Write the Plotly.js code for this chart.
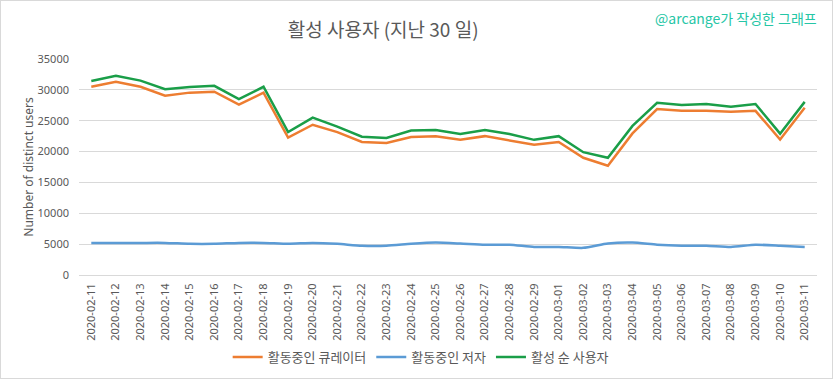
<!DOCTYPE html>
<html>
<head>
<meta charset="utf-8">
<script src="https://cdn.plot.ly/plotly-3.0.1.min.js"></script>
<style>
  html, body { margin: 0; padding: 0; background: #fff; }
  #wrap { position: relative; width: 833px; height: 379px; }
  #chart { width: 833px; height: 379px; }
  #frame { position: absolute; left: 0; top: 0; width: 833px; height: 379px; box-sizing: border-box; border: 1px solid #d9d9d9; pointer-events: none; }
</style>
</head>
<body>
<div id="wrap"><div id="chart"></div><div id="frame"></div></div>
<script>
const dates = ["2020-02-11","2020-02-12","2020-02-13","2020-02-14","2020-02-15","2020-02-16","2020-02-17","2020-02-18","2020-02-19","2020-02-20","2020-02-21","2020-02-22","2020-02-23","2020-02-24","2020-02-25","2020-02-26","2020-02-27","2020-02-28","2020-02-29","2020-03-01","2020-03-02","2020-03-03","2020-03-04","2020-03-05","2020-03-06","2020-03-07","2020-03-08","2020-03-09","2020-03-10","2020-03-11"];
const curators = [30500,31300,30500,29050,29550,29700,27600,29550,22250,24350,23150,21550,21400,22350,22500,21900,22500,21850,21100,21550,19000,17700,22950,26900,26600,26600,26450,26600,21950,27100];
const authors = [5200,5200,5200,5200,5050,5050,5200,5200,5050,5200,5050,4750,4750,5050,5250,5100,4900,4900,4550,4550,4400,5100,5250,4900,4750,4750,4550,4900,4750,4550];
const activeUsers = [31450,32300,31500,30100,30450,30650,28500,30500,23150,25500,24050,22400,22200,23400,23500,22850,23500,22850,21900,22500,19900,19000,24150,27900,27550,27700,27250,27700,22900,28050];
const seriesNames = ["활동중인 큐레이터", "활동중인 저자", "활성 순 사용자"];

const FONT = '"Noto Sans", "Noto Sans CJK KR", sans-serif';
const KFONT = '"Noto Sans CJK KR", "Noto Sans", sans-serif';

const traces = [
  {x: dates, y: curators, name: seriesNames[0], type: 'scatter', mode: 'lines', line: {color: '#ED7D31', width: 2.5}},
  {x: dates, y: authors, name: seriesNames[1], type: 'scatter', mode: 'lines', line: {color: '#5B9BD5', width: 2.5, shape: 'spline', smoothing: 0.6}},
  {x: dates, y: activeUsers, name: seriesNames[2], type: 'scatter', mode: 'lines', line: {color: '#1A9E48', width: 2.5}}
];

const layout = {
  width: 833, height: 379,
  margin: {l: 79, r: 16, t: 59, b: 104},
  paper_bgcolor: 'rgba(0,0,0,0)',
  plot_bgcolor: '#fff',
  showlegend: true,
  title: {text: '활성 사용자 (지난 30 일)', x: 0.46, xref: 'container', xanchor: 'center', y: 1 - 30/379, yref: 'container', yanchor: 'middle', font: {family: KFONT, size: 19, color: '#595959'}},
  xaxis: {
    type: 'category', tickangle: -90, showgrid: false, showline: true, linecolor: '#d9d9d9', linewidth: 1,
    ticks: '', ticklabelstandoff: 3, tickfont: {family: FONT, size: 11, color: '#595959'},
    range: [-0.5, 29.5], fixedrange: true
  },
  yaxis: {
    range: [0, 35000], tickvals: [0,5000,10000,15000,20000,25000,30000,35000], tickformat: 'd',
    showgrid: true, gridcolor: '#d9d9d9', gridwidth: 1, zeroline: false, showline: false, ticks: '',
    ticklabelstandoff: 9, tickfont: {family: FONT, size: 11, color: '#595959'},
    title: {text: 'Number of distinct users', font: {family: FONT, size: 12, color: '#595959'}, standoff: 1}
  },
  legend: {orientation: 'h', xref: 'container', yref: 'container', x: 0.505, xanchor: 'center', y: 1 - 357/379, yanchor: 'middle',
    font: {family: KFONT, size: 13, color: '#595959'}, itemwidth: 30, tracegroupgap: 0, bgcolor: 'rgba(0,0,0,0)'},
  annotations: [{text: '@arcange가 작성한 그래프', xref: 'paper', yref: 'paper', x: (819-79)/738, xanchor: 'right', y: 1 + (59-18)/216, yanchor: 'middle', showarrow: false, font: {family: KFONT, size: 14, color: '#26C6A6'}}]
};

Plotly.newPlot('chart', traces, layout, {displayModeBar: false, staticPlot: true});
</script>
</body>
</html>
